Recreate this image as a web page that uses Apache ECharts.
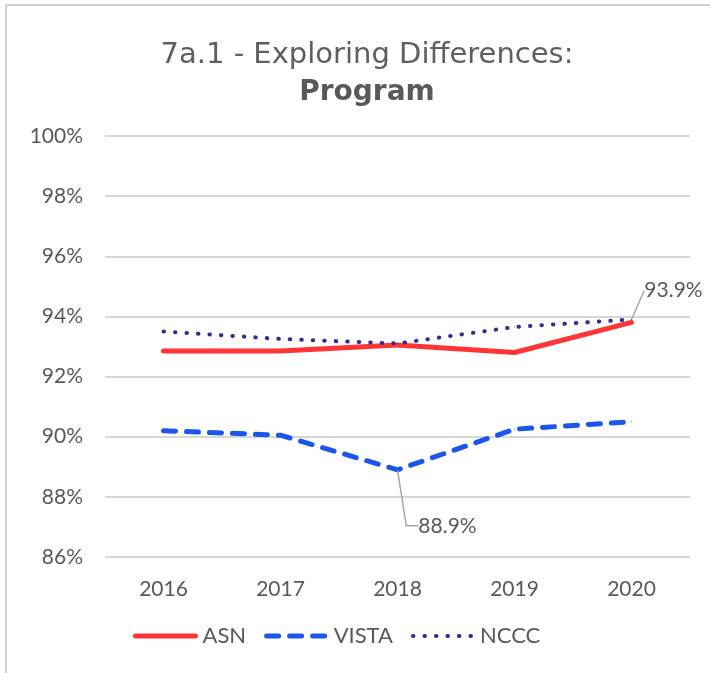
<!DOCTYPE html>
<html>
<head>
<meta charset="utf-8">
<script src="https://cdn.jsdelivr.net/npm/echarts@6/dist/echarts.min.js"></script>
<style>
  html, body { margin: 0; padding: 0; background: #fff; }
  #chart { width: 710px; height: 673px; }
</style>
</head>
<body>
<div id="chart"></div>
<script>
// data
var years = ['2016', '2017', '2018', '2019', '2020'];
var asn = [92.85, 92.85, 93.05, 92.8, 93.8];
var vista = [90.2, 90.05, 88.9, 90.25, 90.5];
var nccc = [93.5, 93.25, 93.1, 93.65, 93.9];
// which point carries a value label
var vistaLabelAt = 2;
var ncccLabelAt = 4;

var FONT = 'Lato';
var TITLE_FONT = 'DejaVu Sans';
var GRAY = '#595959';

function withLabel(values, idx) {
  return values.map(function (v, i) {
    return i === idx ? { value: v, label: { show: true } } : v;
  });
}

var chart = echarts.init(document.getElementById('chart'));
chart.setOption({
  animation: false,
  textStyle: { fontFamily: FONT },
  // outer frame of the chart box
  graphic: [{
    type: 'rect',
    shape: { x: 6, y: 5, width: 800, height: 800 },
    style: { fill: 'none', stroke: '#d0d0d0', lineWidth: 2 },
    silent: true
  }],
  title: {
    text: '7a.1 - Exploring Differences:\n{b|Program}',
    left: 362,
    top: 32,
    textAlign: 'center',
    textStyle: {
      fontFamily: TITLE_FONT,
      fontSize: 29,
      fontWeight: 'normal',
      color: '#5f5f5f',
      lineHeight: 37,
      rich: {
        b: { fontFamily: TITLE_FONT, fontSize: 28, fontWeight: 'bold', color: GRAY, lineHeight: 37 }
      }
    }
  },
  grid: { left: 105, right: 20, top: 136, bottom: 116 },
  legend: {
    bottom: 21,
    left: 128,
    itemWidth: 60,
    itemHeight: 14,
    itemGap: 18,
    itemStyle: { opacity: 0 },
    textStyle: { fontFamily: FONT, fontSize: 22, color: GRAY, padding: [0, 0, 0, 2] },
    data: [
      { name: 'ASN', lineStyle: { width: 5 } },
      { name: 'VISTA', lineStyle: { width: 5 } },
      { name: 'NCCC', lineStyle: { width: 4 } }
    ]
  },
  xAxis: {
    type: 'category',
    data: years,
    axisLine: { show: false },
    axisTick: { show: false },
    axisLabel: { fontFamily: FONT, fontSize: 21, color: GRAY, margin: 22 }
  },
  yAxis: {
    type: 'value',
    min: 86,
    max: 100,
    interval: 2,
    axisLine: { show: false },
    axisTick: { show: false },
    splitLine: { lineStyle: { color: '#c8c8c8', width: 1.5 } },
    axisLabel: { fontFamily: FONT, fontSize: 21, color: GRAY, margin: 22, formatter: '{value}%' }
  },
  series: [
    {
      name: 'ASN',
      type: 'line',
      data: asn,
      symbol: 'circle',
      symbolSize: 1,
      color: '#ff3535',
      lineStyle: { width: 5, color: '#ff3535', cap: 'round', join: 'round' },
      z: 3
    },
    {
      name: 'VISTA',
      type: 'line',
      data: withLabel(vista, vistaLabelAt),
      symbol: 'circle',
      symbolSize: 1,
      color: '#1a56ea',
      lineStyle: { width: 5, color: '#1a56ea', type: [12, 11], cap: 'round', join: 'round' },
      label: {
        show: false,
        position: 'bottom',
        formatter: '{c}%',
        fontFamily: FONT,
        fontSize: 21,
        color: GRAY
      },
      labelLayout: { dx: 50, dy: 40 },
      labelLine: { show: true, length2: 12, lineStyle: { color: '#a6a6a6', width: 1.5 } }
    },
    {
      name: 'NCCC',
      type: 'line',
      data: withLabel(nccc, ncccLabelAt),
      symbol: 'circle',
      symbolSize: 1,
      color: '#362a8e',
      lineStyle: { width: 4, color: '#362a8e', type: [0.5, 11], cap: 'round' },
      label: {
        show: false,
        position: 'top',
        formatter: '{c}%',
        fontFamily: FONT,
        fontSize: 21,
        color: GRAY
      },
      labelLayout: { dx: 42, dy: -13 },
      labelLine: { show: true, length2: 0, lineStyle: { color: '#a6a6a6', width: 1.5 } },
      z: 4
    }
  ]
});
</script>
</body>
</html>
